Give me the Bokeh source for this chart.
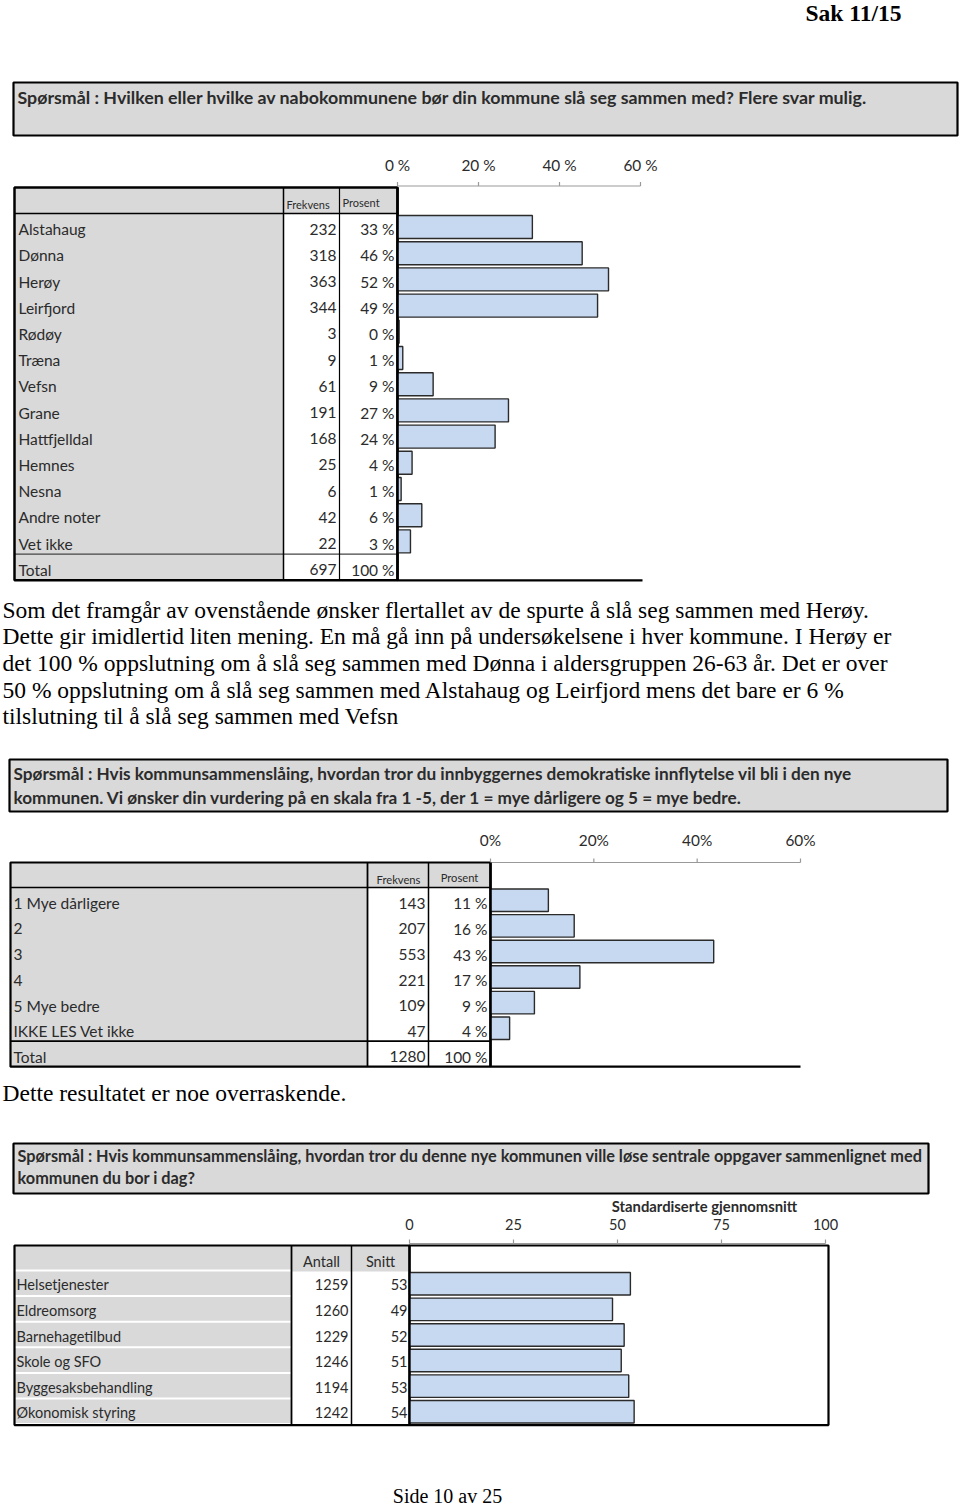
from bokeh.plotting import figure
from bokeh.models import Range1d
from bokeh.core.properties import value
from bokeh.embed import file_html
from bokeh.resources import INLINE

# ---------------- data ----------------
page_header = "Sak 11/15"
page_footer = "Side 10 av 25"

q1_title = "Spørsmål : Hvilken eller hvilke av nabokommunene bør din kommune slå seg sammen med? Flere svar mulig."
q1_cats = ["Alstahaug", "Dønna", "Herøy", "Leirfjord", "Rødøy", "Træna", "Vefsn", "Grane",
           "Hattfjelldal", "Hemnes", "Nesna", "Andre noter", "Vet ikke"]
q1_freq = [232, 318, 363, 344, 3, 9, 61, 191, 168, 25, 6, 42, 22]
q1_pct = [33.3, 45.6, 52.1, 49.4, 0.4, 1.3, 8.8, 27.4, 24.1, 3.6, 0.9, 6.0, 3.2]
q1_pct_labels = ["33 %", "46 %", "52 %", "49 %", "0 %", "1 %", "9 %", "27 %", "24 %", "4 %", "1 %", "6 %", "3 %"]
q1_total = ["Total", "697", "100 %"]
q1_ticks = [0, 20, 40, 60]
q1_tick_labels = ["0 %", "20 %", "40 %", "60 %"]

paragraph1 = [
    "Som det framgår av ovenstående ønsker flertallet av de spurte å slå seg sammen med Herøy.",
    "Dette gir imidlertid liten mening. En må gå inn på undersøkelsene i hver kommune. I Herøy er",
    "det 100 % oppslutning om å slå seg sammen med Dønna i aldersgruppen 26-63 år. Det er over",
    "50 % oppslutning om å slå seg sammen med Alstahaug og Leirfjord mens det bare er 6 %",
    "tilslutning til å slå seg sammen med Vefsn",
]

q2_title = ["Spørsmål : Hvis kommunsammenslåing, hvordan tror du innbyggernes demokratiske innflytelse vil bli i den nye",
            "kommunen. Vi ønsker din vurdering på en skala fra 1 -5, der 1 = mye dårligere og 5 = mye bedre."]
q2_cats = ["1 Mye dårligere", "2", "3", "4", "5 Mye bedre", "IKKE LES Vet ikke"]
q2_freq = [143, 207, 553, 221, 109, 47]
q2_pct = [11.2, 16.2, 43.2, 17.3, 8.5, 3.7]
q2_pct_labels = ["11 %", "16 %", "43 %", "17 %", "9 %", "4 %"]
q2_total = ["Total", "1280", "100 %"]
q2_ticks = [0, 20, 40, 60]
q2_tick_labels = ["0%", "20%", "40%", "60%"]

paragraph2 = ["Dette resultatet er noe overraskende."]

q3_title = ["Spørsmål : Hvis kommunsammenslåing, hvordan tror du denne nye kommunen ville løse sentrale oppgaver sammenlignet med",
            "kommunen du bor i dag?"]
q3_cats = ["Helsetjenester", "Eldreomsorg", "Barnehagetilbud", "Skole og SFO", "Byggesaksbehandling", "Økonomisk styring"]
q3_antall = [1259, 1260, 1229, 1246, 1194, 1242]
q3_snitt = [53.1, 48.8, 51.6, 50.9, 52.7, 54.0]
q3_snitt_labels = ["53", "49", "52", "51", "53", "54"]
q3_ticks = [0, 25, 50, 75, 100]
q3_axis_title = "Standardiserte gjennomsnitt"

# ---------------- styles ----------------
GREY = "#d9d9d9"
BAR = "#c6d9f1"
BAR_LINE = "#2b2b2b"
TXT = "#2b2b2b"
SANS = "Lato"
SERIF = "Liberation Serif"
CELL_FS = 15.5
SERIF_FS = 23.5

p = figure(width=960, height=1505, x_range=Range1d(0, 960), y_range=Range1d(1505, 0),
           output_backend="svg", toolbar_location=None, min_border=0)
p.axis.visible = False
p.grid.visible = False
p.outline_line_color = None
p.background_fill_color = "white"


def txt(x, y, s, size, align="left", bold=False, font=SANS, color=TXT, baseline="middle"):
    p.text(x=[x], y=[y], text=[s], text_font=value(font), text_font_size=f"{size}px",
           text_align=align, text_baseline=baseline, text_color=color,
           text_font_style="bold" if bold else "normal")


def box(l, r, t, b, fill=None, line="black", lw=1.0):
    p.quad(left=[l], right=[r], top=[t], bottom=[b], fill_color=fill,
           fill_alpha=1 if fill else 0, line_color=line, line_width=lw, line_alpha=1 if line else 0)


def hline(x0, x1, y, color="black", lw=1.0):
    p.segment(x0=[x0], y0=[y], x1=[x1], y1=[y], line_color=color, line_width=lw)


def vline(x, y0, y1, color="black", lw=1.0):
    p.segment(x0=[x], y0=[y0], x1=[x], y1=[y1], line_color=color, line_width=lw)


def scale(axis_left, axis_right, vmax):
    return lambda v: axis_left + (axis_right - axis_left) * v / vmax


# page header / footer
txt(901, 12, page_header, 23.5, align="right", bold=True, font=SERIF, color="black")
txt(447, 1495, page_footer, 20, align="center", font=SERIF, color="black")

# ================= Chart 1 =================
box(13, 957, 82, 135, fill=GREY, lw=2.2)
txt(17, 96, q1_title, 17.8, bold=True)

x_lab, x_c1, x_c2, x_c3 = 14, 283, 339, 397
t_top, h_bot, row_h = 187, 213, 26.2
n1 = len(q1_cats)
t_bot = h_bot + row_h * (n1 + 1)
sx1 = scale(x_c3, 640, 60)

box(x_lab, x_c1, t_top, t_bot, fill=GREY, line=None)
box(x_c1, x_c3, t_top, h_bot, fill=GREY, line=None)
hline(x_lab, x_c3, h_bot, lw=1.5)
hline(x_lab, x_c3, h_bot + row_h * n1, color="#444444", lw=1.2)
vline(x_c1, t_top, t_bot, lw=1.5)
vline(x_c2, t_top, t_bot, lw=1.2)
box(x_lab, x_c3, t_top, t_bot, line="black", lw=2.5)

txt(x_c1 + 3, 204, "Frekvens", 11)
txt(x_c2 + 3, 202, "Prosent", 11)

for i, (c, f, pl, pv) in enumerate(zip(q1_cats, q1_freq, q1_pct_labels, q1_pct)):
    rt = h_bot + row_h * i
    yc = rt + row_h / 2 + 2.5
    txt(x_lab + 4, yc, c, CELL_FS)
    txt(x_c2 - 3, yc, str(f), CELL_FS, align="right")
    txt(x_c3 - 3, yc, pl, CELL_FS, align="right")
    p.quad(left=[sx1(0)], right=[sx1(pv)], top=[rt + 2], bottom=[rt + 25],
           fill_color=BAR, line_color=BAR_LINE, line_width=1.4)
yc = h_bot + row_h * n1 + row_h / 2 + 2.5
txt(x_lab + 4, yc, q1_total[0], CELL_FS)
txt(x_c2 - 3, yc, q1_total[1], CELL_FS, align="right")
txt(x_c3 - 3, yc, q1_total[2], CELL_FS, align="right")

hline(sx1(0), sx1(60), 185.5, color="#999999", lw=1.2)
for tk, tl in zip(q1_ticks, q1_tick_labels):
    vline(sx1(tk), 181.5, 185.5, color="#999999", lw=1.2)
    txt(sx1(tk), 164, tl, 15.4, align="center")
vline(x_c3, t_top, t_bot, lw=2.5)
hline(x_c3, 642, t_bot, lw=2.2)

for k, line in enumerate(paragraph1):
    txt(2, 609 + 26.7 * k, line, SERIF_FS, font=SERIF, color="black")

# ================= Chart 2 =================
box(9, 947, 759, 811, fill=GREY, lw=2.2)
txt(13, 773, q2_title[0], 17.2, bold=True)
txt(13, 797, q2_title[1], 17.2, bold=True)

x_lab, x_c1, x_c2, x_c3 = 10, 367, 428, 490
t_top, h_bot, row_h = 862, 887, 25.6
n2 = len(q2_cats)
t_bot = h_bot + row_h * (n2 + 1)
sx2 = scale(x_c3, 800, 60)

box(x_lab, x_c1, t_top, t_bot, fill=GREY, line=None)
box(x_c1, x_c3, t_top, h_bot, fill=GREY, line=None)
hline(x_lab, x_c3, h_bot, lw=1.5)
hline(x_lab, x_c3, h_bot + row_h * n2, lw=1.8)
vline(x_c1, t_top, t_bot, lw=1.8)
vline(x_c2, t_top, t_bot, lw=1.5)
box(x_lab, x_c3, t_top, t_bot, line="black", lw=2.2)

txt(x_c1 + 31, 879, "Frekvens", 11.2, align="center")
txt(x_c2 + 31, 877, "Prosent", 11.2, align="center")

for i, (c, f, pl, pv) in enumerate(zip(q2_cats, q2_freq, q2_pct_labels, q2_pct)):
    rt = h_bot + row_h * i
    yc = rt + row_h / 2 + 3
    txt(x_lab + 3, yc, c, CELL_FS)
    txt(x_c2 - 3, yc, str(f), CELL_FS, align="right")
    txt(x_c3 - 3, yc, pl, CELL_FS, align="right")
    p.quad(left=[sx2(0)], right=[sx2(pv)], top=[rt + 1.5], bottom=[rt + 24],
           fill_color=BAR, line_color=BAR_LINE, line_width=1.4)
yc = h_bot + row_h * n2 + row_h / 2 + 3
txt(x_lab + 3, yc, q2_total[0], CELL_FS)
txt(x_c2 - 3, yc, q2_total[1], CELL_FS, align="right")
txt(x_c3 - 3, yc, q2_total[2], CELL_FS, align="right")

hline(sx2(0), sx2(60), 862, color="#999999", lw=1.2)
for tk, tl in zip(q2_ticks, q2_tick_labels):
    vline(sx2(tk), 858, 862, color="#999999", lw=1.2)
    txt(sx2(tk), 839, tl, 15.4, align="center")
vline(x_c3, t_top, t_bot, lw=2.5)
hline(x_c3, 800, t_bot, lw=2.2)

txt(2, 1092, paragraph2[0], SERIF_FS, font=SERIF, color="black")

# ================= Chart 3 =================
box(13, 928, 1143, 1193, fill=GREY, lw=2.2)
txt(17, 1155, q3_title[0], 16.3, bold=True)
txt(17, 1177, q3_title[1], 16.3, bold=True)

x_lab, x_c1, x_c2, x_c3 = 14, 291, 351, 409
t_top, h_bot, row_h = 1245, 1271, 25.6
n3 = len(q3_cats)
t_bot = h_bot + row_h * n3
sx3 = scale(x_c3, 825, 100)

box(x_c1, x_c3, t_top, h_bot, fill=GREY, line=None)
for i in range(n3 + 1):
    rt = t_top if i == 0 else h_bot + row_h * (i - 1)
    rb = h_bot if i == 0 else rt + row_h
    box(x_lab, x_c1, rt, rb - 2, fill=GREY, line=None)
vline(x_c1, t_top, t_bot, lw=1.8)
vline(x_c2, t_top, t_bot, lw=1.5)
box(x_lab, x_c3, t_top, t_bot, line="black", lw=2.2)

txt((x_c1 + x_c2) / 2, 1261, "Antall", 14.5, align="center")
txt((x_c2 + x_c3) / 2, 1261, "Snitt", 14.5, align="center")

for i, (c, a, sl, sv) in enumerate(zip(q3_cats, q3_antall, q3_snitt_labels, q3_snitt)):
    rt = h_bot + row_h * i
    yc = rt + row_h / 2 + 0.5
    txt(x_lab + 2, yc, c, 14.5)
    txt(x_c2 - 3, yc, str(a), 14.5, align="right")
    txt(x_c3 - 2, yc, sl, 14.5, align="right")
    p.quad(left=[sx3(0)], right=[sx3(sv)], top=[rt + 1], bottom=[rt + 23.5],
           fill_color=BAR, line_color=BAR_LINE, line_width=1.4)

box(x_c3, 828, t_top, t_bot, line="black", lw=2.2)
hline(sx3(0), sx3(100), 1243, color="#999999", lw=1.2)
for tk in q3_ticks:
    vline(sx3(tk), 1239, 1243, color="#999999", lw=1.2)
    txt(sx3(tk), 1224, str(tk), 14.5, align="center")
txt(704, 1205, q3_axis_title, 14.8, align="center", bold=True)

open("out.html", "w").write(file_html(p, INLINE))
